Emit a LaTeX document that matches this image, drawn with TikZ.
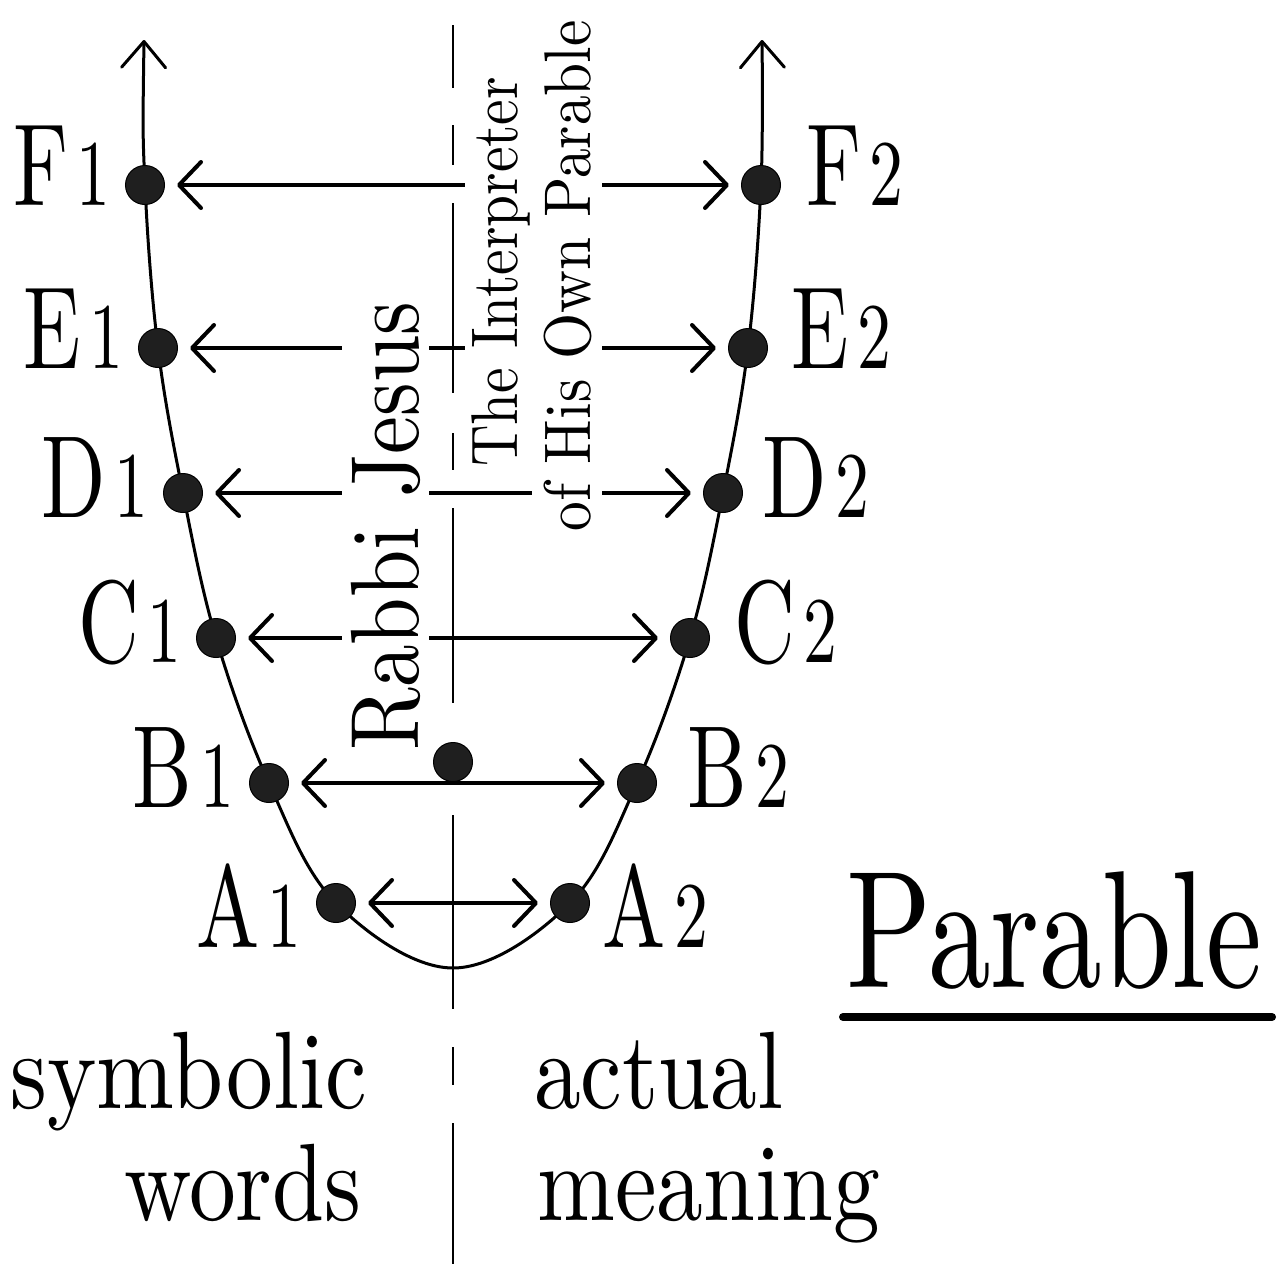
\documentclass[tikz,border=0pt]{standalone}
\usepackage{fontspec}
\setmainfont{lmroman10-regular.otf}
\usetikzlibrary{arrows.meta}
\newcommand\ptlab[2]{\scalebox{0.72}[1]{\fontsize{117}{117}\selectfont #1\hspace{12pt}{\fontsize{94}{94}\selectfont #2}}}
\newcommand\bigword[1]{\scalebox{0.85}[1]{\fontsize{110}{110}\selectfont #1}}
\begin{document}
\begin{tikzpicture}[x=1pt,y=-1pt,
  curve/.style={line width=3pt},
  dot/.style={circle,fill=black!88,draw=black,line width=1pt,inner sep=0pt,minimum size=39pt},
  link/.style={line width=4pt,{Straight Barb[length=22pt,width=46pt,round]}-{Straight Barb[length=22pt,width=46pt,round]},shorten <=12pt,shorten >=12pt},
  axis/.style={line width=2pt},
  lbl/.style={inner sep=0pt},
  vtext/.style={rotate=90,anchor=base,fill=white},
  word/.style={inner sep=0pt,anchor=base west}]
\useasboundingbox (0,0) rectangle (1284,1264);
\fill[white] (0,0) rectangle (1284,1264);
% positions on the curve
\coordinate (tl) at (144,40);
\coordinate (pF1) at (145,185);
\coordinate (pE1) at (158,348);
\coordinate (pD1) at (183,493);
\coordinate (pC1) at (216,638);
\coordinate (pB1) at (269,783);
\coordinate (pA1) at (336,903);
\coordinate (bot) at (453,968);
\coordinate (pA2) at (570,903);
\coordinate (pB2) at (637,783);
\coordinate (pC2) at (690,638);
\coordinate (pD2) at (723,493);
\coordinate (pE2) at (748,348);
\coordinate (pF2) at (761,185);
\coordinate (tr) at (762,40);
% central dashed axis
\foreach \a/\b in {25/88,125/165,203/393,433/470,508/703,815/1009,1047/1085,1123/1264}
  \draw[axis] (453,\a) -- (453,\b);
% curve
\draw[curve,{Straight Barb[length=26pt,width=44pt,round]}-{Straight Barb[length=26pt,width=44pt,round]}]
  plot[smooth,tension=0.6] coordinates {(tl) (pF1) (pE1) (pD1) (pC1) (pB1) (pA1) (bot) (pA2) (pB2) (pC2) (pD2) (pE2) (pF2) (tr)};
% dots
\foreach \n in {F1,E1,D1,C1,B1,A1,F2,E2,D2,C2,B2,A2}
  \node[dot] (\n) at (p\n) {};
\node[dot] (mid) at (453,762) {};
% links
\foreach \r in {F,E,D,C,B,A}
  \draw[link] (\r1) -- (\r2);
% labels
\node[lbl,anchor=base east] (lF1) at (111,205) {\ptlab{F}{1}};
\node[lbl,anchor=base east] (lE1) at (124,368) {\ptlab{E}{1}};
\node[lbl,anchor=base east] (lD1) at (149,517) {\ptlab{D}{1}};
\node[lbl,anchor=base east] (lC1) at (182,662) {\ptlab{C}{1}};
\node[lbl,anchor=base east] (lB1) at (235,807) {\ptlab{B}{1}};
\node[lbl,anchor=base east] (lA1) at (302,947) {\ptlab{A}{1}};
\node[lbl,anchor=base west] (lF2) at (806,205) {\ptlab{F}{2}};
\node[lbl,anchor=base west] (lE2) at (791,368) {\ptlab{E}{2}};
\node[lbl,anchor=base west] (lD2) at (762,517) {\ptlab{D}{2}};
\node[lbl,anchor=base west] (lC2) at (734,662) {\ptlab{C}{2}};
\node[lbl,anchor=base west] (lB2) at (687,807) {\ptlab{B}{2}};
\node[lbl,anchor=base west] (lA2) at (602,947) {\ptlab{A}{2}};
% rotated texts
\node[vtext,inner xsep=9pt,inner ysep=9pt] (rj) at (418,526) {\scalebox{0.88}[1]{\fontsize{97}{97}\selectfont Rabbi Jesus}};
\node[vtext,inner xsep=6pt,inner ysep=6pt] (int1) at (517,272) {\scalebox{0.87}[1]{\fontsize{66}{66}\selectfont The Interpreter}};
\node[vtext,inner xsep=6pt,inner ysep=11pt] (int2) at (590,276) {\scalebox{0.90}[1]{\fontsize{66}{66}\selectfont of His Own Parable}};
% title
\node[word] (par) at (846,987) {\scalebox{0.75}[1]{\fontsize{167}{167}\selectfont Parable}};
\draw[line width=8pt,line cap=round] (843,1017) -- (1272,1017);
% bottom words
\node[word] (sym) at (10,1108) {\bigword{symbolic}};
\node[word] (wrd) at (124,1220) {\bigword{words}};
\node[word] (act) at (534,1108) {\bigword{actual}};
\node[word] (mean) at (537,1220) {\bigword{meaning}};
\end{tikzpicture}
\end{document}
